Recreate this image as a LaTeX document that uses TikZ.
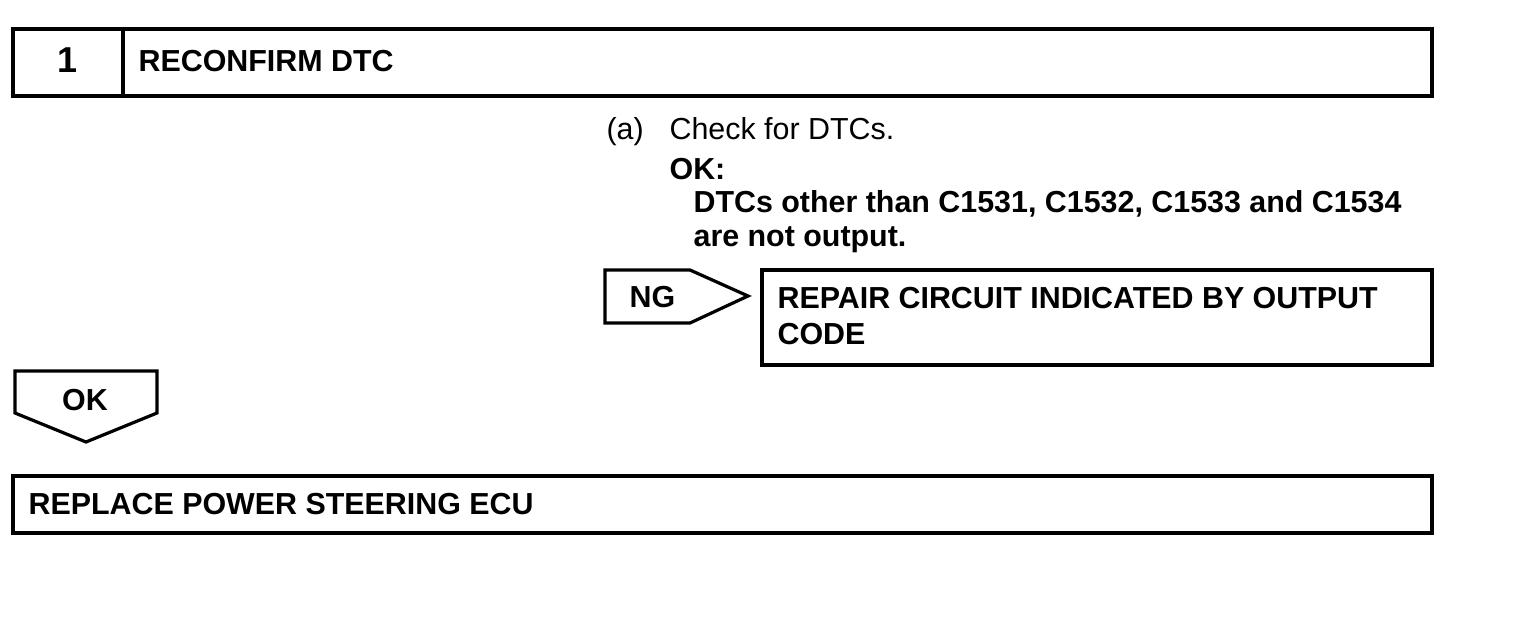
\documentclass[tikz,border=0pt]{standalone}
\usepackage{fontspec}
\setmainfont{Liberation Sans}
\begin{document}
\begin{tikzpicture}[x=0.5pt,y=-0.5pt,line width=1.6pt,line join=miter,
    lbl/.style={anchor=base west,inner sep=0pt,font=\fontsize{15.2}{18}\selectfont\bfseries},
    note/.style={anchor=base west,inner sep=0pt,font=\fontsize{15.2}{18}\selectfont}]
  \useasboundingbox (0,0) rectangle (1536,616);
  % step header
  \draw (13,29) rectangle (1432,96);
  \draw (123,29) -- (123,96);
  \node[lbl,anchor=base,font=\fontsize{18}{20}\selectfont\bfseries] (num) at (68,72) {1};
  \node[lbl] (title) at (137,71) {RECONFIRM DTC};
  % check
  \node[note] (item) at (605,139) {(a)};
  \node[note] (check) at (668,139) {Check for DTCs.};
  \node[lbl] (ok) at (668,179) {OK:};
  \node[lbl] (crit1) at (692,212) {DTCs other than C1531, C1532, C1533 and C1534};
  \node[lbl] (crit2) at (692,246) {are not output.};
  % NG branch
  \draw (605,270) -- (690,270) -- (748,296) -- (690,323) -- (605,323) -- cycle;
  \node[lbl] (ng) at (628,307) {NG};
  \draw (762,270) rectangle (1432,365);
  \node[lbl] (repair1) at (776,308) {REPAIR CIRCUIT INDICATED BY OUTPUT};
  \node[lbl] (repair2) at (776,344) {CODE};
  % OK branch
  \draw (15,371) -- (157,371) -- (157,413) -- (86,442) -- (15,413) -- cycle;
  \node[lbl,anchor=base] (okarrow) at (85,410) {OK};
  \draw (13,476) rectangle (1432,533);
  \node[lbl] (replace) at (27,514) {REPLACE POWER STEERING ECU};
\end{tikzpicture}
\end{document}
